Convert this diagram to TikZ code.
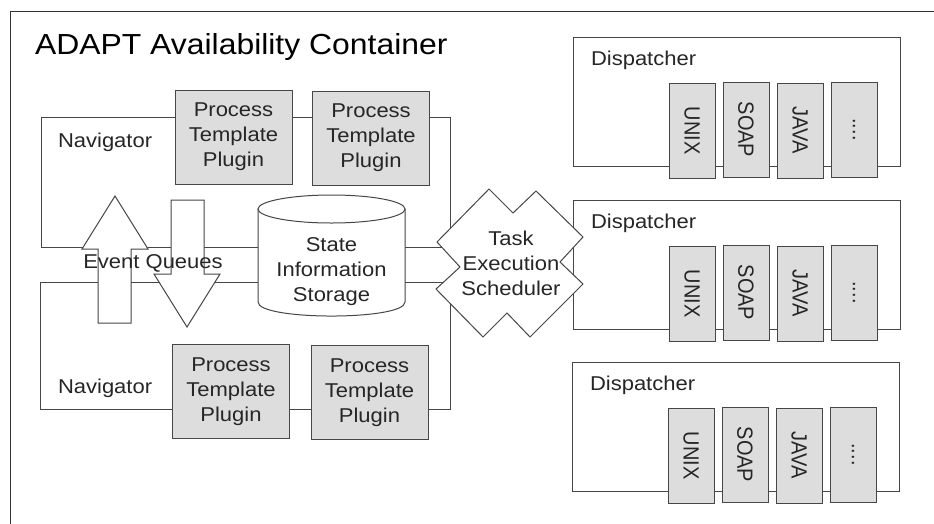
\documentclass[tikz,border=0pt]{standalone}
\usepackage{fontspec}
\setmainfont{Liberation Sans}[FakeStretch=1.1]
\newfontfamily\rotfont{Liberation Sans}
\definecolor{lc}{RGB}{70,70,70}
\definecolor{oc}{RGB}{50,50,50}
\definecolor{boxfill}{RGB}{221,221,221}
\definecolor{txt}{RGB}{38,38,38}
\tikzset{
  every node/.style={inner sep=0pt, outer sep=0pt, text=txt},
  body/.style={font=\fontsize{20}{25}\selectfont, align=center},
  frame/.style={draw=lc, line width=1pt},
  navbox/.style={draw=lc, line width=1pt, anchor=north west},
  ptp/.style={draw=lc, fill=boxfill, line width=1pt, minimum width=117pt, minimum height=94pt, body},
  disp/.style={draw=lc, line width=1pt, fill=white, minimum width=327pt, minimum height=129pt, anchor=north west},
  plug/.style={draw=lc, fill=boxfill, line width=1pt, minimum width=46pt, minimum height=95pt, anchor=north west},
  rottext/.style={rotate=-90, font=\rotfont\fontsize{20}{24}\selectfont},
  arrowshape/.style={draw=lc, fill=white, line width=1pt, line join=miter},
}
\begin{document}
\begin{tikzpicture}[x=1pt,y=-1pt]
\clip (0,0) rectangle (934,523);
\fill[white] (0,0) rectangle (934,523);
% outer container
\draw[draw=oc, line width=1pt] (10,11) rectangle (960,560);
\node[anchor=base west, font=\fontsize{29}{33}\selectfont, text=black] (title) at (35,54) {ADAPT Availability Container};

% navigators
\node[navbox, minimum width=409pt, minimum height=130pt] (nav1) at (41,117) {};
\node[navbox, minimum width=410pt, minimum height=127pt] (nav2) at (40,282) {};
\node[body, anchor=west] (nav1label) at (58,142) {Navigator};
\node[body, anchor=west] (nav2label) at (58,388) {Navigator};

% process template plugins
\node[ptp] (p1) at (233.5,137) {Process\\Template\\Plugin};
\node[ptp] (p2) at (371,138) {Process\\Template\\Plugin};
\node[ptp] (p3) at (231,391.5) {Process\\Template\\Plugin};
\node[ptp] (p4) at (369.5,392.5) {Process\\Template\\Plugin};

% dispatchers
\foreach \n/\x/\y in {1/573/37, 2/573/200, 3/572/362} {
  \node[disp] (d\n) at (\x,\y) {};
  \node[body, anchor=west] (d\n-label) at (\x+18,\y+23) {Dispatcher};
  \node[plug] (d\n-unix) at (\x+96,\y+46) {};
  \node[plug] (d\n-soap) at (\x+150,\y+45) {};
  \node[plug] (d\n-java) at (\x+204,\y+46) {};
  \node[plug] (d\n-more) at (\x+258,\y+45) {};
  \node[rottext] (d\n-unixt) at (d\n-unix.center) {\scalebox{1}[1.1]{UNIX}};
  \node[rottext] (d\n-soapt) at (d\n-soap.center) {\scalebox{1}[1.1]{SOAP}};
  \node[rottext] (d\n-javat) at (d\n-java.center) {\scalebox{1}[1.1]{JAVA}};
  \node[rottext] (d\n-moret) at (d\n-more.center) {\scalebox{1}[1.1]{....}};
}

% event queue arrows
\draw[arrowshape] (115,196) -- (148,249) -- (131,249) -- (131,323) -- (98,323) -- (98,249) -- (82,249) -- cycle;
\draw[arrowshape] (171,200) -- (204,200) -- (204,274) -- (220,274) -- (187,327) -- (154,274) -- (171,274) -- cycle;
\node[body] (eq) at (153,263) {Event Queues};

% state information storage (cylinder)
\draw[frame, fill=white] (258,209) -- (258,302) .. controls (258,320.7) and (405,320.7) .. (405,302) -- (405,209) -- cycle;
\draw[frame, fill=white] (331.5,209) ellipse [x radius=73.5, y radius=14];
\node[body] (store) at (331.5,272) {State\\Information\\Storage};

% task execution scheduler
\draw[frame, fill=white, line join=miter] (489,189) -- (513,213) -- (536,191) -- (583,237) -- (560,262) -- (583,284) -- (530,337) -- (507,313) -- (483,337) -- (436,289) -- (460,267) -- (437,242) -- cycle;
\node[body] (sched) at (511,263) {Task\\Execution\\Scheduler};
\end{tikzpicture}
\end{document}
